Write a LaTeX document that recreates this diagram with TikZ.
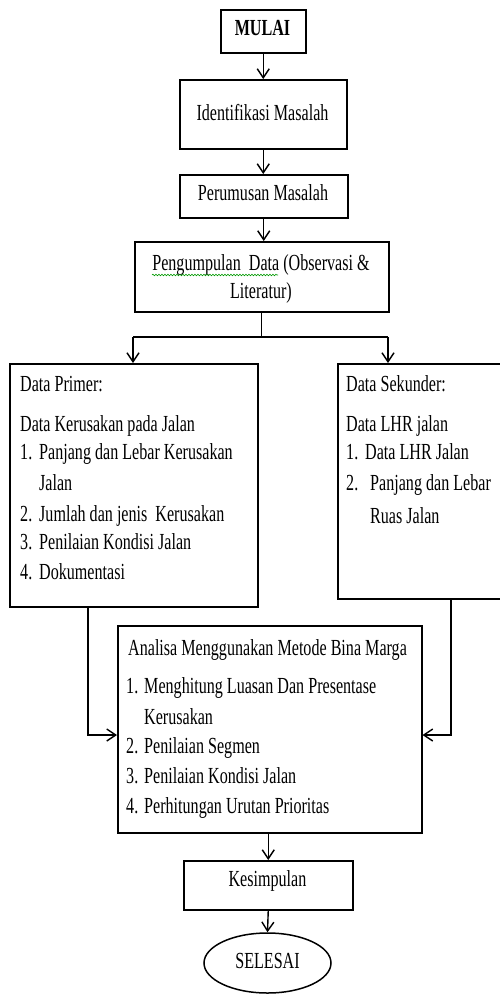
\documentclass[tikz,border=0pt]{standalone}
\usepackage{fontspec}
\setmainfont[FakeStretch=0.7]{Liberation Serif}
\usetikzlibrary{arrows.meta,shapes.geometric,decorations.pathmorphing}
\newcommand\myfs{\fontsize{23}{30}\selectfont}
\newcommand\num[1]{\makebox[19pt][l]{#1}}
\begin{document}
\begin{tikzpicture}[x=1pt,y=-1pt,
  box/.style={draw, line width=1.5pt, inner sep=0pt, anchor=north west},
  txt/.style={anchor=base west, inner sep=0pt, font=\myfs},
  ctxt/.style={anchor=base, inner sep=0pt, font=\myfs},
  ln/.style={line width=1.4pt},
  arr/.style={line width=1.4pt, -{Straight Barb[length=9pt,width=12pt]}}]
\useasboundingbox (0,0) rectangle (500,994);

% boxes
\node[box, minimum width=85pt, minimum height=43pt] (mulai) at (220,9) {};
\node[box, minimum width=167pt, minimum height=69pt] (ident) at (179,79) {};
\node[box, minimum width=168pt, minimum height=43pt] (rumus) at (179,174) {};
\node[box, minimum width=254pt, minimum height=70pt] (kumpul) at (134,241) {};
\node[box, minimum width=248pt, minimum height=243pt] (primer) at (9,363) {};
\node[box, minimum width=163.5pt, minimum height=235pt] (sekunder) at (337,363) {};
\node[box, minimum width=304pt, minimum height=207pt] (analisa) at (117,625) {};
\node[box, minimum width=169pt, minimum height=49pt] (kesimp) at (183,860) {};
\node[draw, line width=1.5pt, ellipse, inner sep=0pt, minimum width=127pt, minimum height=60pt] (selesai) at (267.5,963) {};

% texts
\node[ctxt, font=\myfs\bfseries] (tmulai) at (262.5,35) {MULAI};
\node[ctxt] (tident) at (262.5,120) {Identifikasi Masalah};
\node[ctxt] (trumus) at (263,200) {Perumusan Masalah};
\node[ctxt] (tkumpul1) at (261,270) {Pengumpulan\ \ Data (Observasi \&};
\node[ctxt] (tkumpul2) at (261,298) {Literatur)};
\draw[green!60!black, line width=0.6pt, decorate, decoration={snake, amplitude=0.8pt, segment length=3pt}] (152,275) -- (278,275);

\node[txt] (p0) at (20,391) {Data Primer:};
\node[txt] (p1) at (20,431) {Data Kerusakan pada Jalan};
\node[txt] (p2) at (20,459) {\num{1.}Panjang dan Lebar Kerusakan};
\node[txt] (p3) at (39,490) {Jalan};
\node[txt] (p4) at (20,521) {\num{2.}Jumlah dan jenis\ \ Kerusakan};
\node[txt] (p5) at (20,549) {\num{3.}Penilaian Kondisi Jalan};
\node[txt] (p6) at (20,579) {\num{4.}Dokumentasi};

\node[txt] (s0) at (346,391) {Data Sekunder:};
\node[txt] (s1) at (346,431) {Data LHR jalan};
\node[txt] (s2) at (346,459) {\num{1.}Data LHR Jalan};
\node[txt] (s3) at (346,490) {\makebox[24pt][l]{2.}Panjang dan Lebar};
\node[txt] (s4) at (370,523) {Ruas Jalan};

\node[txt] (a0) at (128,655) {Analisa Menggunakan Metode Bina Marga};
\node[txt] (a1) at (126,693) {\makebox[18pt][l]{1.}Menghitung Luasan Dan Presentase};
\node[txt] (a2) at (144,724) {Kerusakan};
\node[txt] (a3) at (126,753) {\makebox[18pt][l]{2.}Penilaian Segmen};
\node[txt] (a4) at (126,783) {\makebox[18pt][l]{3.}Penilaian Kondisi Jalan};
\node[txt] (a5) at (126,813) {\makebox[18pt][l]{4.}Perhitungan Urutan Prioritas};

\node[ctxt] (tkesimp) at (267.5,886) {Kesimpulan};
\node[ctxt] (tselesai) at (267.5,968) {SELESAI};

% connectors
\draw[arr] (mulai.south) -- (ident.north);
\draw[arr] (ident.south) -- (ident.south |- rumus.north);
\draw[arr] (rumus.south) -- (rumus.south |- kumpul.north);
\coordinate (sl) at (133,337);
\coordinate (sr) at (388,337);
\draw[ln] (kumpul.south) -- (kumpul.south |- sl);
\draw[ln] (sl) -- (sr);
\draw[arr] (sl) -- (sl |- primer.north);
\draw[arr] (sr) -- (sr |- sekunder.north);
\coordinate (pl) at (88,735);
\coordinate (pr) at (451,735);
\draw[arr] (primer.south -| pl) -- (pl) -- (pl -| analisa.west);
\draw[arr] (sekunder.south -| pr) -- (pr) -- (pr -| analisa.east);
\draw[arr] (kesimp.north |- analisa.south) -- (kesimp.north);
\draw[arr] (kesimp.south) -- (selesai.north);
\end{tikzpicture}
\end{document}
